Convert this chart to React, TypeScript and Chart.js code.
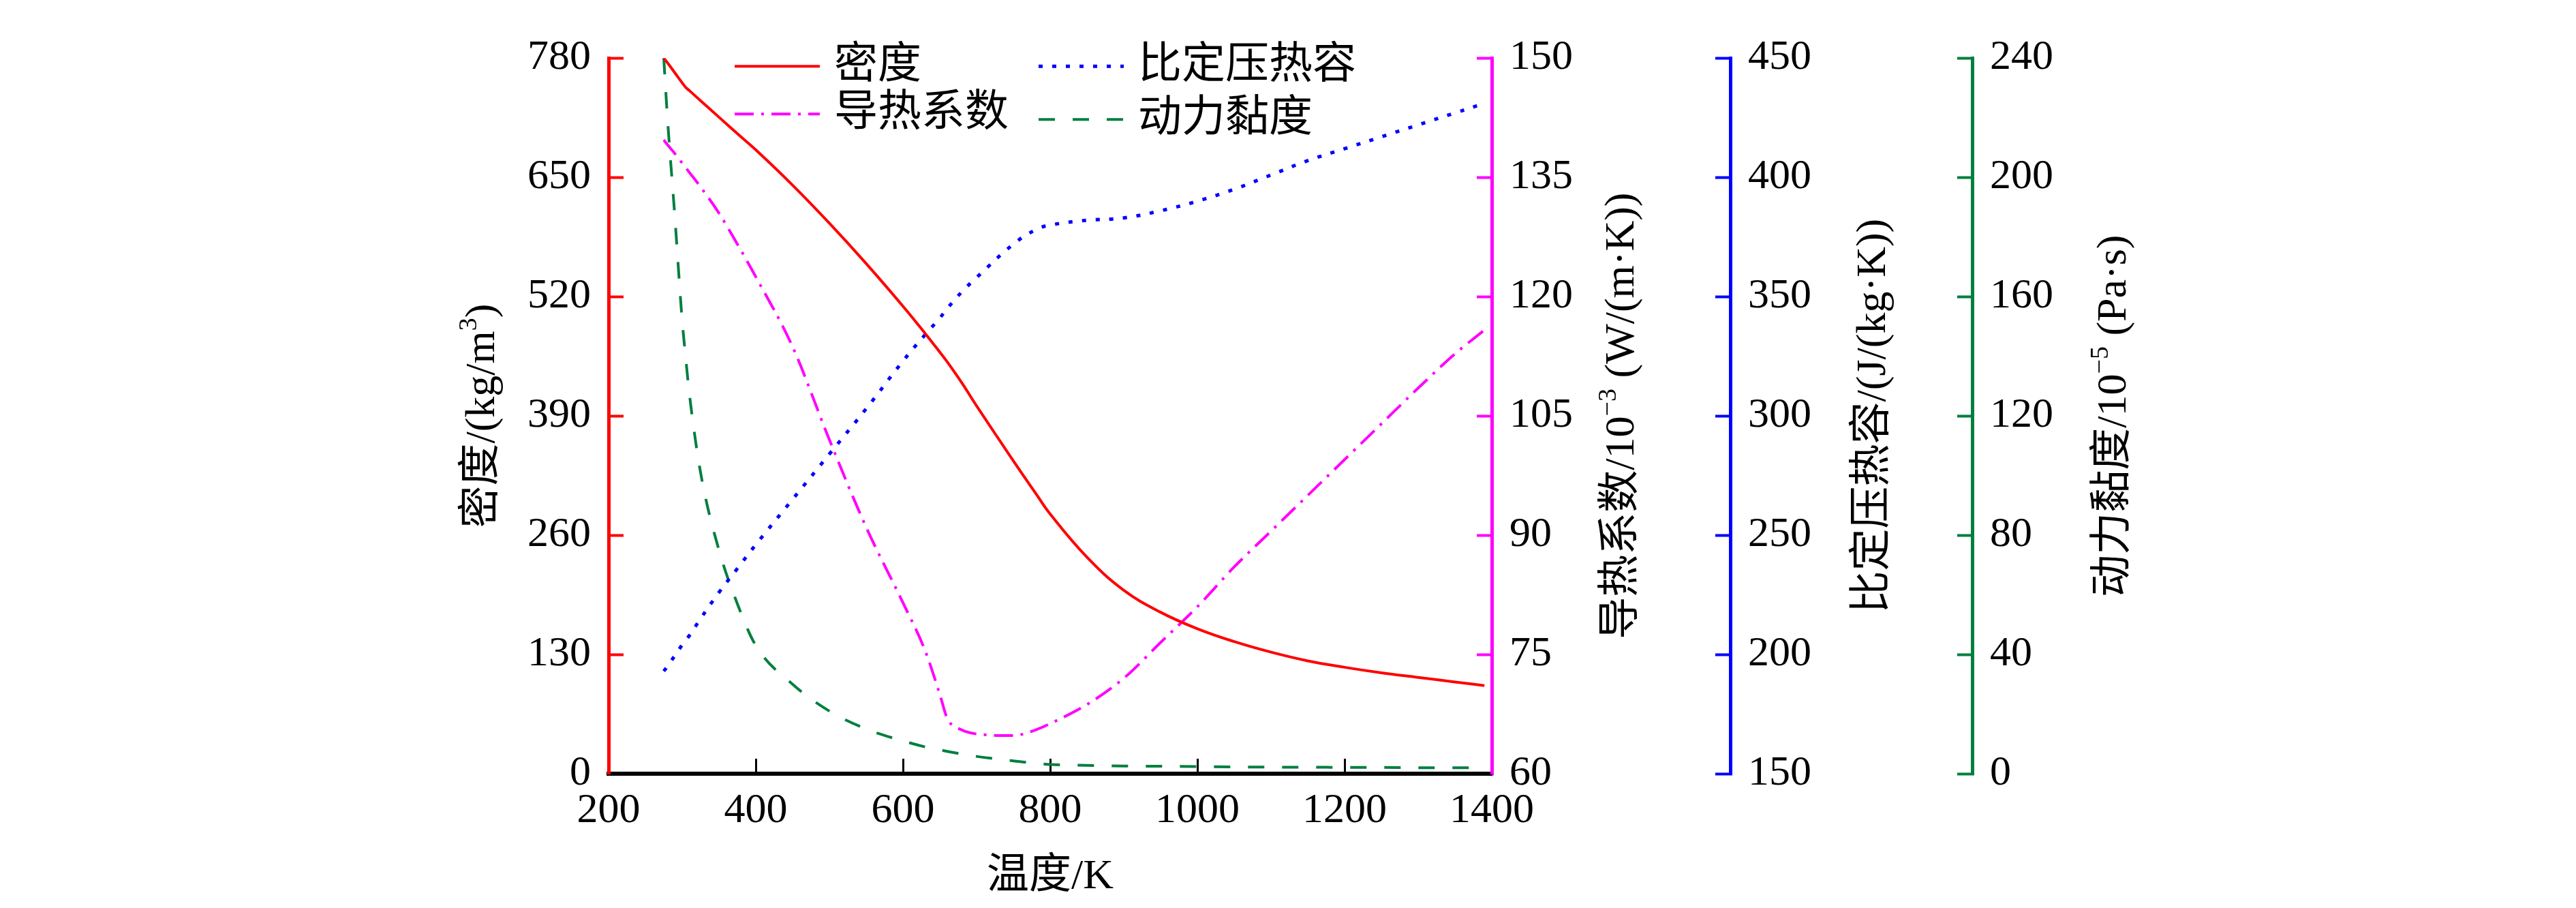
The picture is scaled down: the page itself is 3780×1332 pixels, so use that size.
import { useEffect, useRef } from "react"
import { Chart, registerables } from "chart.js"

Chart.register(...registerables)

const FONT = "'Liberation Serif', 'Noto Sans CJK SC', serif"

// Temperatura comum a todas as curvas (K)
const temperature = [275, 280, 290, 300, 305, 310, 325, 350, 375, 400, 450, 500, 550, 600, 630, 650, 660, 680, 700, 750, 780, 800, 850, 900, 950, 1000, 1050, 1100, 1150, 1200, 1250, 1300, 1350, 1390]
const density = [780, 775, 764, 753, 748, 744.4, 733.6, 715.6, 697.6, 680, 641.5, 600, 556, 509.5, 480, 459.5, 449, 426, 401, 341, 306, 283, 236, 200, 176, 158, 144, 132.5, 123, 116, 110, 105, 100, 96]
const conductivity = [139.7, 139.1, 138, 136.8, 136.2, 135.6, 133.8, 130.5, 126.6, 122.5, 113.7, 102, 91, 81.5, 75.5, 70, 67, 65.5, 65, 64.8, 65.5, 66.3, 68.7, 72, 76.5, 81, 86, 90.5, 95, 99.5, 104, 108.5, 112.8, 115.8]
const heatCapacity = [193, 195, 199.5, 204, 206, 208, 215, 226, 236, 246, 265, 284, 303, 323, 334, 341, 345, 352, 358, 372, 378, 380, 382, 383, 386, 390, 395, 401, 407, 412, 417, 422, 427, 431]
const viscosity = [240, 220, 187, 152, 139, 127, 101, 75, 57, 43, 30, 21, 15, 11, 9, 8, 7.5, 6.6, 5.8, 4.3, 3.5, 3.1, 2.8, 2.6, 2.5, 2.4, 2.3, 2.2, 2.2, 2.1, 2.1, 2.0, 2.0, 2.0]

const seriesLabels = ["密度", "导热系数", "比定压热容", "动力黏度"]

const xTicks = [200, 400, 600, 800, 1000, 1200, 1400]
const densityTicks = [0, 130, 260, 390, 520, 650, 780]
const conductivityTicks = [60, 75, 90, 105, 120, 135, 150]
const heatCapacityTicks = [150, 200, 250, 300, 350, 400, 450]
const viscosityTicks = [0, 40, 80, 120, 160, 200, 240]

const RED = "#ff0000"
const MAGENTA = "#ff00ff"
const BLUE = "#0000ff"
const GREEN = "#007f3f"

// legenda: coluna/linha de cada série (dataset index)
const legendSlots = [
  { dataset: 0, dx: 185, dy: 12 },
  { dataset: 1, dx: 185, dy: 82 },
  { dataset: 2, dx: 631, dy: 12 },
  { dataset: 3, dx: 631, dy: 90 },
]

type Seg = { text: string; sup?: boolean }
const axisTitles: { axis: string; side: "left" | "right"; offset: number; segs: Seg[] }[] = [
  { axis: "yDensity", side: "left", offset: -190, segs: [{ text: "密度/(kg/m" }, { text: "3", sup: true }, { text: ")" }] },
  { axis: "yCond", side: "right", offset: 186, segs: [{ text: "导热系数/10" }, { text: "−3", sup: true }, { text: " (W/(m·K))" }] },
  { axis: "yCp", side: "right", offset: 205, segs: [{ text: "比定压热容/(J/(kg·K))" }] },
  { axis: "yVisc", side: "right", offset: 203, segs: [{ text: "动力黏度/10" }, { text: "−5", sup: true }, { text: " (Pa·s)" }] },
]

const overlayPlugin = {
  id: "overlay",
  afterDraw(chart: any) {
    const { ctx, chartArea } = chart
    ctx.save()

    legendSlots.forEach((slot) => {
      const ds = chart.data.datasets[slot.dataset]
      const x = chartArea.left + slot.dx
      const y = chartArea.top + slot.dy
      ctx.strokeStyle = ds.borderColor
      ctx.lineWidth = ds.borderWidth
      ctx.setLineDash(ds.borderDash || [])
      ctx.beginPath()
      ctx.moveTo(x, y)
      ctx.lineTo(x + 125, y)
      ctx.stroke()
      ctx.setLineDash([])
      ctx.fillStyle = "#000"
      ctx.font = `64px ${FONT}`
      ctx.textAlign = "left"
      ctx.textBaseline = "middle"
      ctx.fillText(ds.label, x + 146, y)
    })

    const cy = (chartArea.top + chartArea.bottom) / 2
    axisTitles.forEach((t) => {
      const scale = chart.scales[t.axis]
      const line = t.side === "left" ? scale.right : scale.left
      const cx = line + t.offset
      const widths = t.segs.map((s) => {
        ctx.font = s.sup ? `38px ${FONT}` : `62px ${FONT}`
        return ctx.measureText(s.text).width
      })
      const total = widths.reduce((a, b) => a + b, 0)
      ctx.save()
      ctx.translate(cx, cy)
      ctx.rotate(-Math.PI / 2)
      ctx.fillStyle = "#000"
      ctx.textAlign = "left"
      ctx.textBaseline = "alphabetic"
      let x = -total / 2
      t.segs.forEach((s, i) => {
        ctx.font = s.sup ? `38px ${FONT}` : `62px ${FONT}`
        ctx.fillText(s.text, x, s.sup ? -4 : 22)
        x += widths[i]
      })
      ctx.restore()
    })

    ctx.restore()
  },
}

function yAxis(color: string, ticks: number[], side: "left" | "right", width: number, weight: number) {
  return {
    type: "linear" as const,
    position: side,
    weight,
    min: ticks[0],
    max: ticks[ticks.length - 1],
    afterBuildTicks: (s: any) => {
      s.ticks = ticks.map((v) => ({ value: v }))
    },
    afterFit: (s: any) => {
      s.width = width
    },
    border: { color, width: 5 },
    grid: { drawOnChartArea: false, color, tickColor: color, tickLength: -22, tickWidth: 4 },
    ticks: { color: "#000", padding: 48, font: { size: 62, family: FONT }, callback: (v: any) => String(v) },
    title: { display: false },
  }
}

export default function App() {
  const chartRef = useRef<HTMLCanvasElement>(null)
  const chartInstance = useRef<Chart | null>(null)

  useEffect(() => {
    document.body.style.margin = "0"
    if (!chartRef.current) return
    if (chartInstance.current) chartInstance.current.destroy()
    const ctx = chartRef.current.getContext("2d")
    if (!ctx) return

    const pts = (vals: number[]) => temperature.map((t, i) => ({ x: t, y: vals[i] }))

    chartInstance.current = new Chart(ctx, {
      type: "line",
      data: {
        datasets: [
          { label: seriesLabels[0], data: pts(density), yAxisID: "yDensity", borderColor: RED, borderWidth: 4, borderDash: [], tension: 0.4 },
          { label: seriesLabels[1], data: pts(conductivity), yAxisID: "yCond", borderColor: MAGENTA, borderWidth: 4, borderDash: [28, 11, 4, 11], cubicInterpolationMode: "monotone" },
          { label: seriesLabels[2], data: pts(heatCapacity), yAxisID: "yCp", borderColor: BLUE, borderWidth: 5, borderDash: [6, 14], tension: 0.4 },
          { label: seriesLabels[3], data: pts(viscosity), yAxisID: "yVisc", borderColor: GREEN, borderWidth: 4, borderDash: [24, 26], cubicInterpolationMode: "monotone" },
        ] as any,
      },
      options: {
        responsive: false,
        animation: false,
        devicePixelRatio: 1,
        layout: { padding: { left: 600, right: 586, top: 38, bottom: 0 } },
        elements: { point: { radius: 0 } },
        plugins: { legend: { display: false }, tooltip: { enabled: false } },
        scales: {
          x: {
            type: "linear",
            min: xTicks[0],
            max: xTicks[xTicks.length - 1],
            afterBuildTicks: (s: any) => {
              s.ticks = xTicks.map((v) => ({ value: v }))
            },
            afterFit: (s: any) => {
              s.height = 197
            },
            border: { color: "#000", width: 6 },
            grid: {
              drawOnChartArea: false,
              tickLength: -22,
              tickWidth: 3,
              tickColor: (c: any) =>
                c.tick && (c.tick.value === xTicks[0] || c.tick.value === xTicks[xTicks.length - 1]) ? "rgba(0,0,0,0)" : "#000",
            },
            ticks: { color: "#000", padding: 40, maxRotation: 0, font: { size: 62, family: FONT }, callback: (v: any) => String(v) },
            title: { display: true, text: "温度/K", color: "#000", font: { size: 62, family: FONT }, padding: { top: 0, bottom: 8 } },
          },
          yDensity: yAxis(RED, densityTicks, "left", 293, 1),
          yCond: yAxis(MAGENTA, conductivityTicks, "right", 350, 1),
          yCp: yAxis(BLUE, heatCapacityTicks, "right", 355, 2),
          yVisc: yAxis(GREEN, viscosityTicks, "right", 300, 3),
        } as any,
      },
      plugins: [overlayPlugin],
    })

    return () => {
      if (chartInstance.current) {
        chartInstance.current.destroy()
        chartInstance.current = null
      }
    }
  }, [])

  return (
    <div style={{ width: 3780, height: 1332, background: "#fff" }}>
      <canvas ref={chartRef} width={3780} height={1332} />
    </div>
  )
}
